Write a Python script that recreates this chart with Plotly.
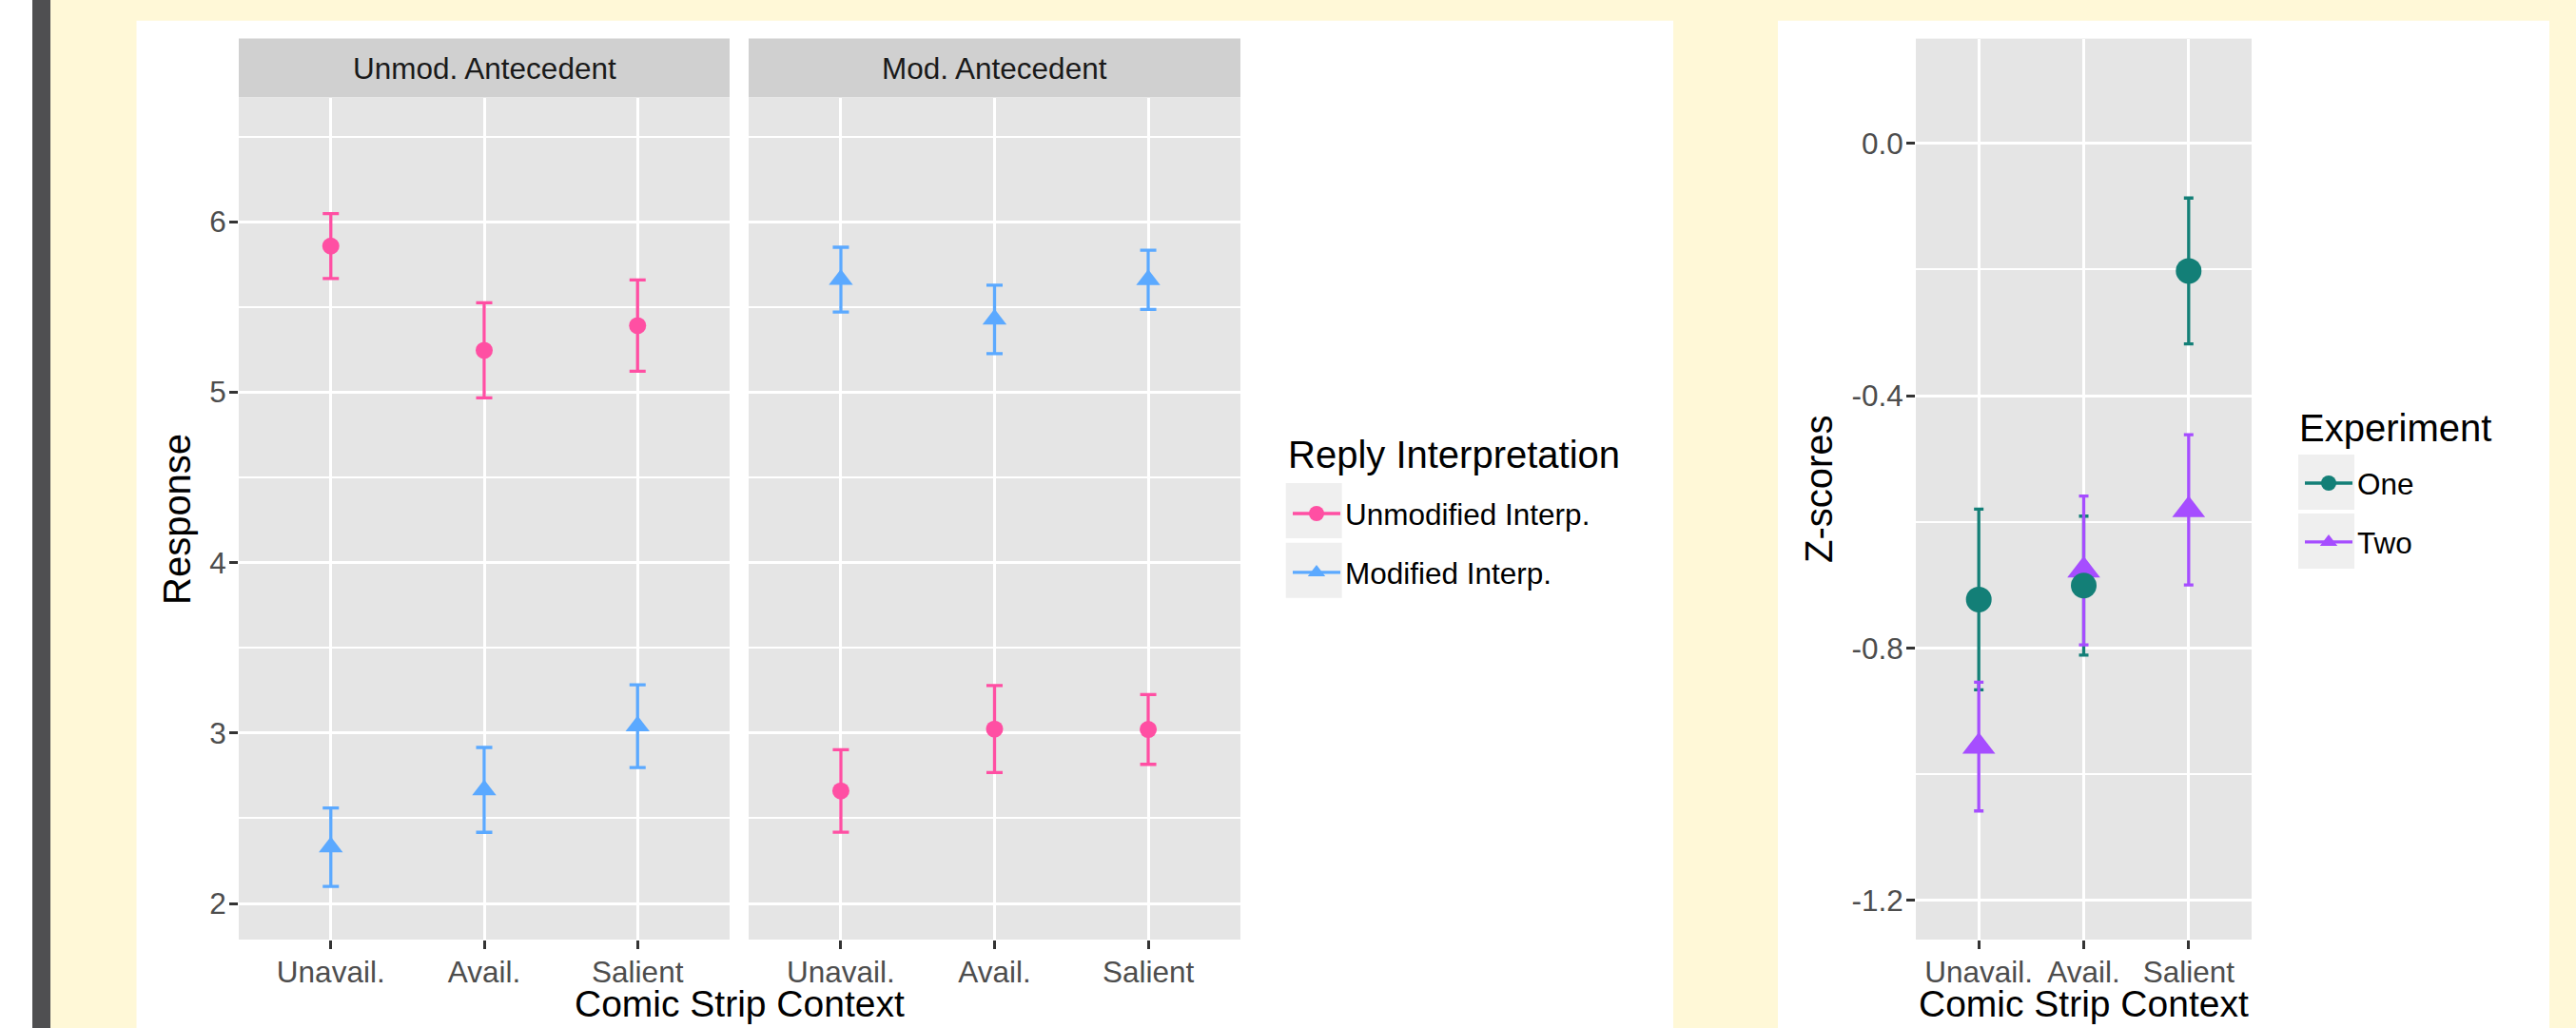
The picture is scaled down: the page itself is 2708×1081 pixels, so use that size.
import plotly.graph_objects as go

W, H = 2708, 1081

# ---------------- data ----------------
contexts = ["Unavail.", "Avail.", "Salient"]
facets = ["Unmod. Antecedent", "Mod. Antecedent"]
interp_names = ["Unmodified Interp.", "Modified Interp."]

# Facet "Unmod. Antecedent"
ua_unmod_mean = [5.857, 5.245, 5.39]
ua_unmod_err = [0.19, 0.279, 0.268]
ua_mod_mean = [2.33, 2.666, 3.04]
ua_mod_err = [0.23, 0.249, 0.243]
# Facet "Mod. Antecedent"
ma_unmod_mean = [2.66, 3.023, 3.021]
ma_unmod_err = [0.242, 0.255, 0.205]
ma_mod_mean = [5.66, 5.427, 5.659]
ma_mod_err = [0.19, 0.201, 0.174]

exp_names = ["One", "Two"]
one_mean = [-0.723, -0.701, -0.2025]
one_err = [0.143, 0.11, 0.1155]
two_mean = [-0.956, -0.677, -0.581]
two_err = [0.102, 0.118, 0.119]

left_yticks = [2, 3, 4, 5, 6]
right_yticks = [0.0, -0.4, -0.8, -1.2]
right_yticktext = ["0.0", "-0.4", "-0.8", "-1.2"]

# ---------------- style ----------------
PINK = "#FF4FA3"
BLUE = "#5BA9FF"
TEAL = "#137F77"
PURPLE = "#A64DFF"
FONT = "Liberation Sans, Arial, Helvetica, sans-serif"
SMALL = 31.5
BIG = 40
PANEL = "#E5E5E5"
STRIP = "#D0D0D0"
KEY = "#EFEFEF"
YELLOW = "#FFF8D7"


def fx(px):
    return px / W


def fy(py):
    return 1 - py / H


fig = go.Figure()


def errtrace(x, y, e, color, xa, ya, width, thick):
    return go.Scatter(
        x=x, y=y, mode="markers", xaxis=xa, yaxis=ya, showlegend=False,
        marker=dict(size=1, color="rgba(0,0,0,0)"),
        error_y=dict(type="data", array=e, visible=True, color=color,
                     thickness=thick, width=width),
        hoverinfo="skip")


def pttrace(x, y, color, symbol, size, xa, ya, name):
    return go.Scatter(
        x=x, y=y, mode="markers", xaxis=xa, yaxis=ya, showlegend=False, name=name,
        marker=dict(size=size, color=color, symbol=symbol, line=dict(width=0)))


# left figure: error bars then points
for xa, ya, um, ue, mm, me in [("x", "y", ua_unmod_mean, ua_unmod_err, ua_mod_mean, ua_mod_err),
                               ("x2", "y2", ma_unmod_mean, ma_unmod_err, ma_mod_mean, ma_mod_err)]:
    fig.add_trace(errtrace(contexts, um, ue, PINK, xa, ya, 8.5, 3.3))
    fig.add_trace(errtrace(contexts, mm, me, BLUE, xa, ya, 8.5, 3.3))
    fig.add_trace(pttrace(contexts, um, PINK, "circle", 18, xa, ya, interp_names[0]))
    fig.add_trace(pttrace(contexts, mm, BLUE, "triangle-up", 22, xa, ya, interp_names[1]))

# right figure
fig.add_trace(errtrace(contexts, one_mean, one_err, TEAL, "x3", "y3", 5, 3.3))
fig.add_trace(errtrace(contexts, two_mean, two_err, PURPLE, "x3", "y3", 5, 3.3))
fig.add_trace(pttrace(contexts, two_mean, PURPLE, "triangle-up", 30, "x3", "y3", exp_names[1]))
fig.add_trace(pttrace(contexts, one_mean, TEAL, "circle", 27, "x3", "y3", exp_names[0]))

# legend entries
for name, color, sym, size, lg, grp in [
        (interp_names[0], PINK, "circle", 17, "legend", "a"),
        (interp_names[1], BLUE, "triangle-up", 22, "legend", "b"),
        (exp_names[0], TEAL, "circle", 22, "legend2", "c"),
        (exp_names[1], PURPLE, "triangle-up", 28, "legend2", "d")]:
    fig.add_trace(go.Scatter(
        x=[None], y=[None], mode="lines+markers", name=name, legend=lg,
        legendgroup=grp, xaxis="x", yaxis="y",
        line=dict(color=color, width=3.3),
        marker=dict(color=color, symbol=sym, size=size)))

axis_common = dict(
    showgrid=True, gridcolor="white", gridwidth=3.2, zeroline=False, showline=False,
    ticks="outside", ticklen=9, tickwidth=3, tickcolor="#333333", ticklabelstandoff=-3,
    tickfont=dict(family=FONT, size=SMALL, color="#4D4D4D"), fixedrange=True)

xcat = dict(type="category", categoryorder="array", categoryarray=contexts, range=[-0.6, 2.6])

yl_dom = [fy(988), fy(103)]
yr_dom = [fy(988), fy(40.6)]

fig.update_layout(
    width=W, height=H,
    margin=dict(l=0, r=0, t=0, b=0),
    paper_bgcolor="white",
    plot_bgcolor=PANEL,
    font=dict(family=FONT, color="black"),
    xaxis=dict(domain=[fx(251), fx(767)], anchor="y", **xcat, **axis_common),
    yaxis=dict(domain=yl_dom, anchor="x", range=[1.788, 6.726], tickvals=left_yticks,
               ticktext=[str(v) for v in left_yticks],
               minor=dict(dtick=0.5, tick0=0, showgrid=True, gridcolor="white", gridwidth=1.6, ticks=""),
               **axis_common),
    xaxis2=dict(domain=[fx(787), fx(1304)], anchor="y2", **xcat, **axis_common),
    yaxis2=dict(domain=yl_dom, anchor="x2", matches="y", range=[1.788, 6.726], tickvals=left_yticks,
                minor=dict(dtick=0.5, tick0=0, showgrid=True, gridcolor="white", gridwidth=1.6, ticks=""),
                **{**axis_common, "ticks": "", "showticklabels": False}),
    xaxis3=dict(domain=[fx(2014), fx(2367)], anchor="y3", **xcat, **axis_common),
    yaxis3=dict(domain=yr_dom, anchor="x3", range=[-1.2618, 0.1656], tickvals=right_yticks,
                ticktext=right_yticktext,
                minor=dict(dtick=0.2, tick0=0, showgrid=True, gridcolor="white", gridwidth=1.6, ticks=""),
                **axis_common),
    legend=dict(x=fx(1354), y=fy(513), xanchor="left", yanchor="top",
                bgcolor="rgba(0,0,0,0)", itemwidth=50, tracegroupgap=18,
                font=dict(family=FONT, size=SMALL, color="black")),
    legend2=dict(x=fx(2418), y=fy(481), xanchor="left", yanchor="top",
                 bgcolor="rgba(0,0,0,0)", itemwidth=50, tracegroupgap=18,
                 font=dict(family=FONT, size=SMALL, color="black")),
    showlegend=True,
)

shapes = []
# page decorations (yellow page around white cards, dark bar on the left)
for x0, x1, y0, y1 in [(53, W, 0, 21.7), (53, 143.5, 0, H), (1759, 1869, 0, H), (2680, W, 0, H)]:
    shapes.append(dict(type="rect", xref="paper", yref="paper", x0=fx(x0), x1=fx(x1), y0=fy(y1), y1=fy(y0),
                       fillcolor=YELLOW, line=dict(width=0), layer="below"))
shapes.append(dict(type="rect", xref="paper", yref="paper", x0=fx(34), x1=fx(53), y0=0, y1=1,
                   fillcolor="#4F4F51", line=dict(width=0), layer="below"))
# facet strips
for x0, x1 in [(251, 767), (787, 1304)]:
    shapes.append(dict(type="rect", xref="paper", yref="paper", x0=fx(x0), x1=fx(x1), y0=fy(102.6), y1=fy(40.6),
                       fillcolor=STRIP, line=dict(width=0), layer="below"))
# legend key backgrounds
for x0, y0 in [(1351.7, 508), (1351.7, 570.7), (2416, 478), (2416, 540)]:
    shapes.append(dict(type="rect", xref="paper", yref="paper", x0=fx(x0), x1=fx(x0 + 59),
                       y0=fy(y0 + 58), y1=fy(y0), fillcolor=KEY, line=dict(width=0), layer="below"))
fig.update_layout(shapes=shapes)

ann = []
for name, x0, x1 in [(facets[0], 251, 767), (facets[1], 787, 1304)]:
    ann.append(dict(text=name, x=fx((x0 + x1) / 2), y=fy(71.6), xref="paper", yref="paper",
                    showarrow=False, xanchor="center", yanchor="middle",
                    font=dict(family=FONT, size=SMALL, color="#1A1A1A")))
for text, xc in [("Comic Strip Context", (251 + 1304) / 2), ("Comic Strip Context", (2014 + 2367) / 2)]:
    ann.append(dict(text=text, x=fx(xc), y=fy(1055), xref="paper", yref="paper",
                    showarrow=False, xanchor="center", yanchor="middle",
                    font=dict(family=FONT, size=39, color="black")))
ann.append(dict(text="Response", x=fx(186), y=fy(546), xref="paper", yref="paper", textangle=-90,
                showarrow=False, xanchor="center", yanchor="middle", font=dict(family=FONT, size=BIG, color="black")))
ann.append(dict(text="Z-scores", x=fx(1912), y=fy(514), xref="paper", yref="paper", textangle=-90,
                showarrow=False, xanchor="center", yanchor="middle", font=dict(family=FONT, size=BIG, color="black")))
# legend titles
ann.append(dict(text="Reply Interpretation", x=fx(1352), y=fy(478), xref="paper", yref="paper",
                showarrow=False, xanchor="left", yanchor="middle", font=dict(family=FONT, size=BIG, color="black")))
ann.append(dict(text="Experiment", x=fx(2415), y=fy(450), xref="paper", yref="paper",
                showarrow=False, xanchor="left", yanchor="middle", font=dict(family=FONT, size=BIG, color="black")))
fig.update_layout(annotations=ann)

fig.write_html("out.html", config={"displayModeBar": False},
               post_script="document.body.style.margin='0px';")
